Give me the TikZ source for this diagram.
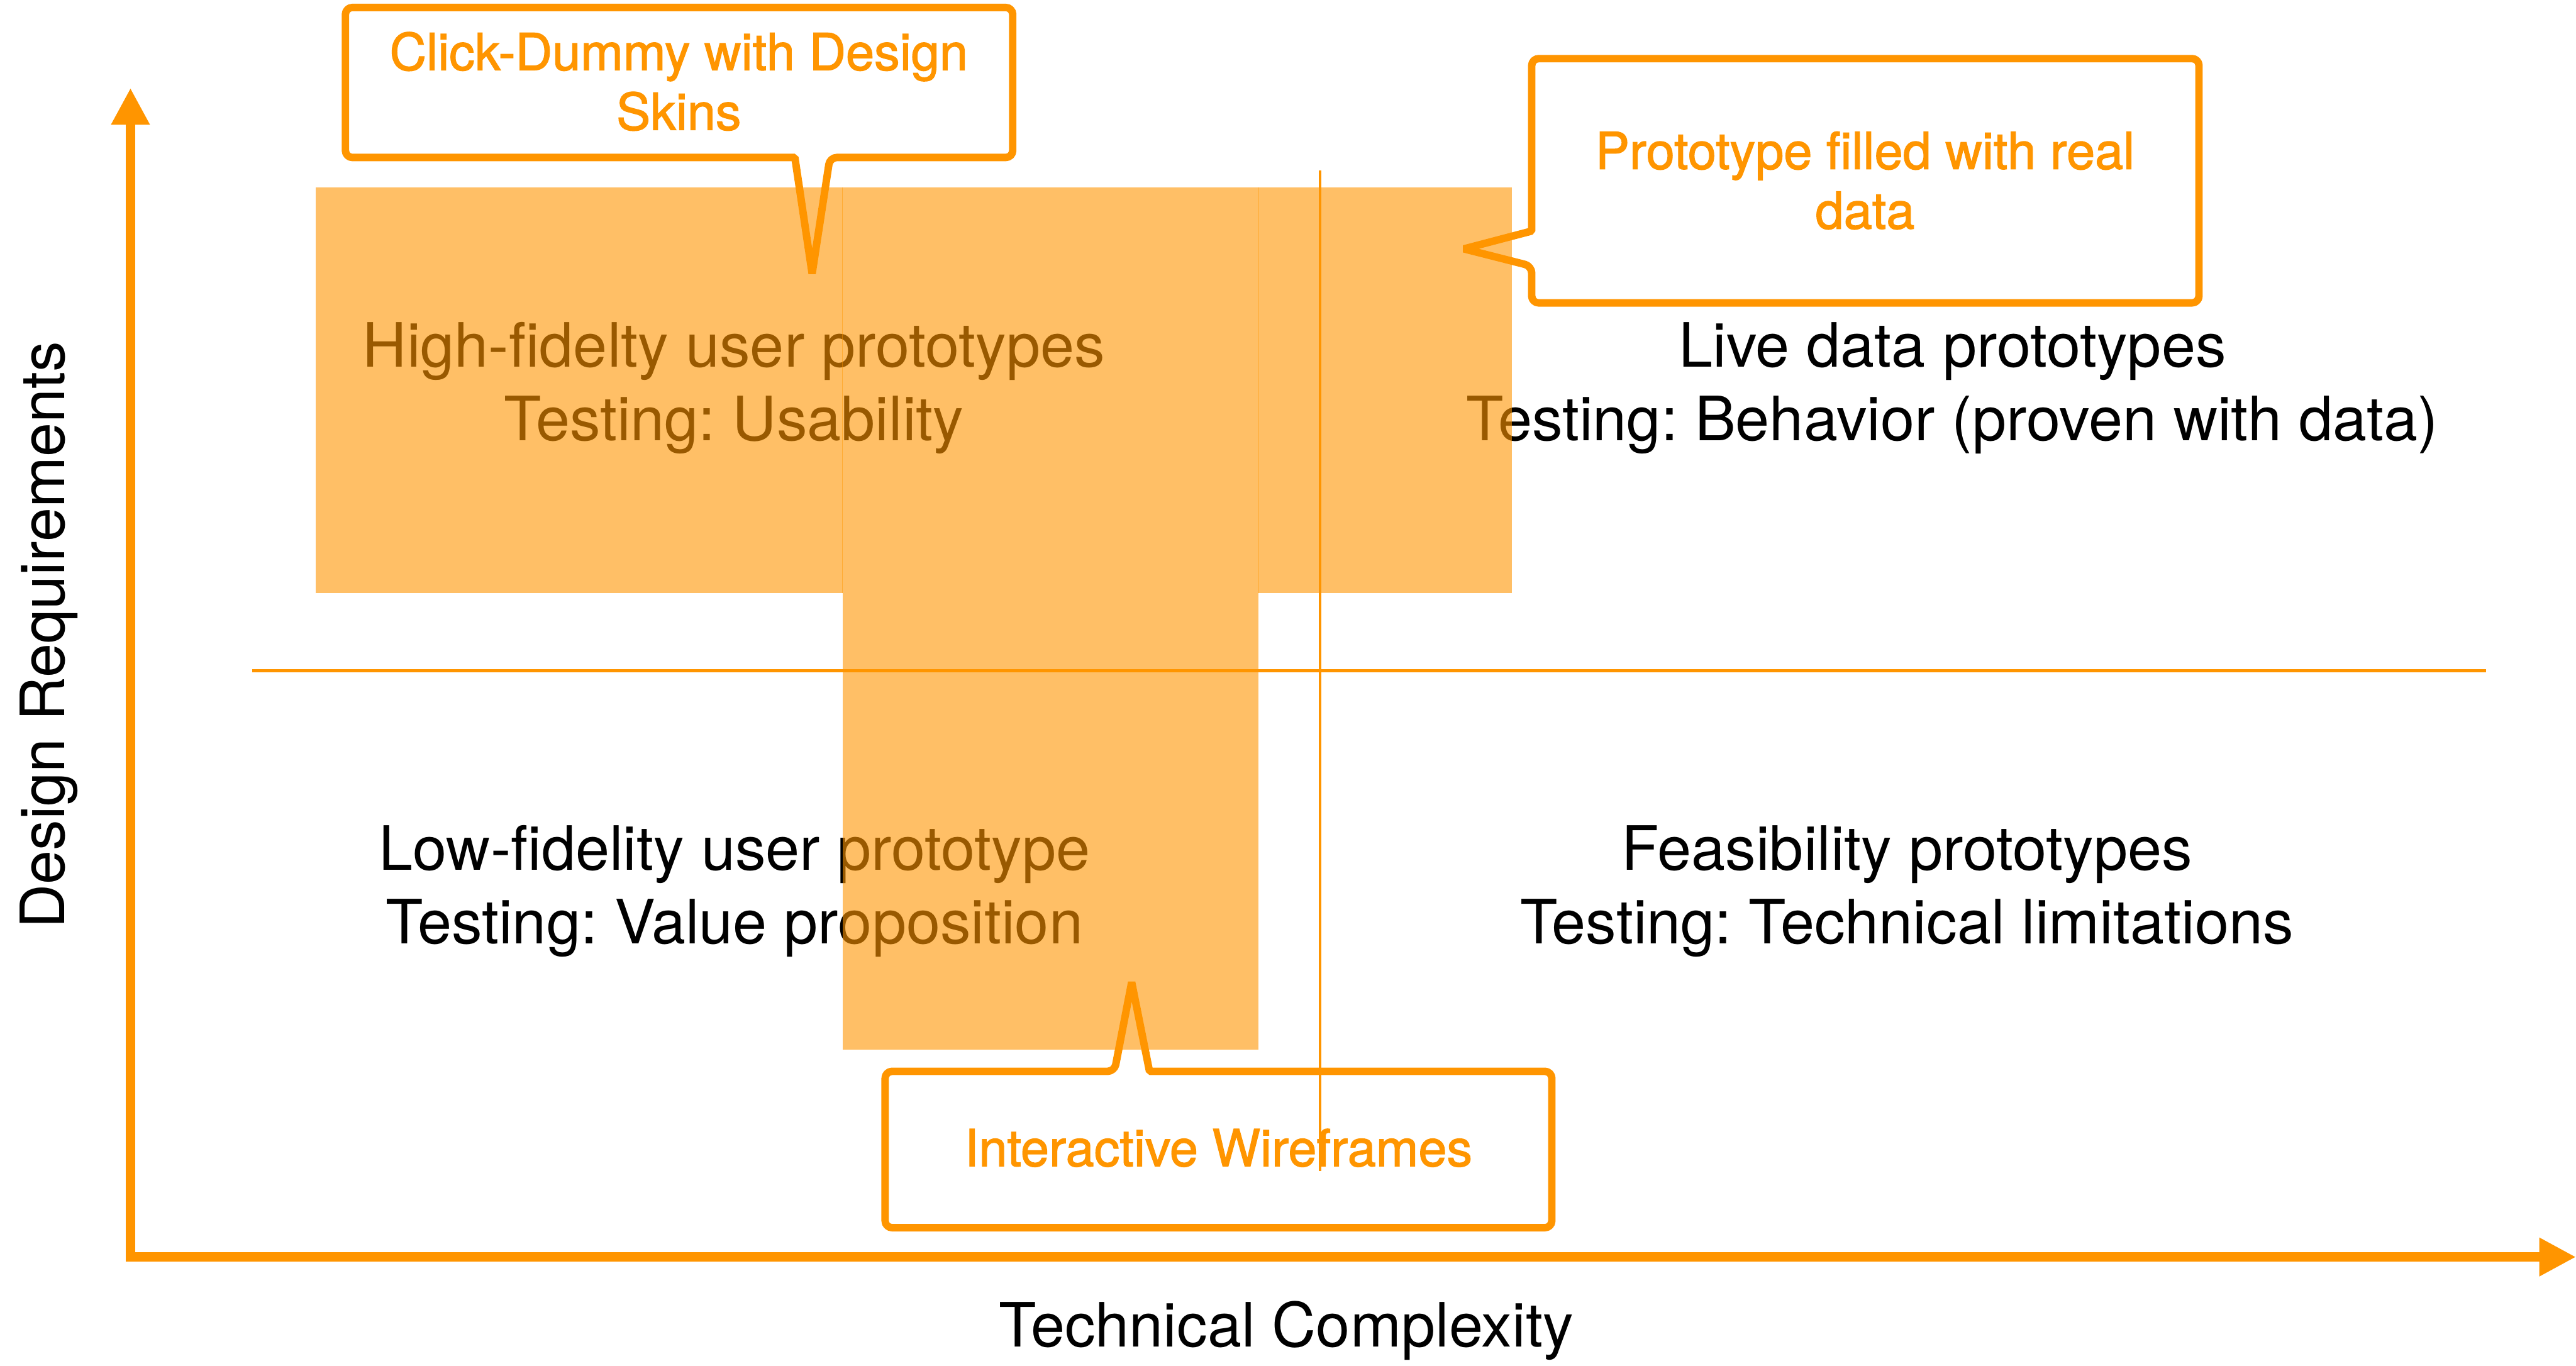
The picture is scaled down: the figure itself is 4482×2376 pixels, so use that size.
\documentclass[tikz,border=0pt]{standalone}
\usepackage{fontspec}
\setmainfont{TeX Gyre Heros}
\newfontface\calloutfont[FakeBold=1.6]{TeX Gyre Heros}
\usetikzlibrary{arrows.meta}
\definecolor{apporange}{HTML}{FF9500}
\frenchspacing
\tikzset{
  quadtext/.style={anchor=base, inner sep=0pt, text=black, font=\fontsize{26.6}{31.9}\selectfont},
  axistext/.style={anchor=base, inner sep=0pt, text=black, font=\fontsize{26.6}{31.9}\selectfont},
  calltext/.style={anchor=base, inner sep=0pt, text=apporange, font=\calloutfont\fontsize{22.2}{26.6}\selectfont},
  callout/.style={draw=apporange, line width=3.25pt, line join=bevel},
  block/.style={fill=apporange, fill opacity=0.6},
  seam/.style={draw=apporange, line width=0.3pt, draw opacity=0.5},
  divider/.style={draw=apporange, line width=1.25pt},
  axisline/.style={draw=apporange, line width=4pt, line join=miter,
    arrows={Triangle[length=16pt,width=15.75pt]-Triangle[length=16pt,width=15.75pt]}}
}
\begin{document}
\begin{tikzpicture}[x=0.25pt, y=-0.25pt]
\useasboundingbox (0,0) rectangle (4482,2376);

% quadrant labels (under the translucent blocks)
\node[quadtext] (tl1) at (1277,639) {High-fidelty user prototypes};
\node[quadtext] (tl2) at (1277,767) {Testing: Usability};
\node[quadtext] (tr1) at (3397,639) {Live data prototypes};
\node[quadtext] (tr2) at (3397,767) {Testing: Behavior (proven with data)};
\node[quadtext] (bl1) at (1278,1514) {Low-fidelity user prototype};
\node[quadtext] (bl2) at (1278,1642) {Testing: Value proposition};
\node[quadtext] (br1) at (3318,1514) {Feasibility prototypes};
\node[quadtext] (br2) at (3318,1642) {Testing: Technical limitations};

% axis titles
\node[axistext] (xlabel) at (2238,2343) {Technical Complexity};
\node[axistext, rotate=90] (ylabel) at (112,1105) {Design Requirements};

% callouts
\draw[callout, rounded corners=3pt] (1180,13) -- (1762,13) -- (1762,274) -- (1444,274)
  [sharp corners] -- (1413,476) -- (1383,274)
  [rounded corners=3pt] -- (601,274) -- (601,13) -- cycle;
\node[calltext] (c1a) at (1181,122) {Click-Dummy with Design};
\node[calltext] (c1b) at (1181,226) {Skins};

\draw[callout, rounded corners=3pt] (3245,102) -- (3826,102) -- (3826,527) -- (2665,527) -- (2665,463)
  [sharp corners] -- (2547,433) -- (2665,402)
  [rounded corners=3pt] -- (2665,102) -- cycle;
\node[calltext] (c2a) at (3245,294) {Prototype filled with real};
\node[calltext] (c2b) at (3245,398) {data};

\draw[callout, rounded corners=3pt] (2120,2136) -- (1540,2136) -- (1540,1864) -- (1939,1864)
  [sharp corners] -- (1969,1709) -- (2000,1864)
  [rounded corners=3pt] -- (2700,1864) -- (2700,2136) -- cycle;
\node[calltext] (c3) at (2120,2029) {Interactive Wireframes};

% translucent blocks
\fill[block] (549,326) rectangle (1466,1032);
\fill[block] (1466,326) rectangle (2190,1826);
\fill[block] (2190,326) rectangle (2631,1032);
\draw[seam] (1466,326) -- (1466,1032);
\draw[seam] (2190,326) -- (2190,1032);

% dividers
\coordinate (hl) at (439,1167);
\coordinate (hr) at (4325,1167);
\coordinate (vt) at (2297,297);
\coordinate (vb) at (2297,2037);
\draw[divider] (hl) -- (hr);
\draw[divider] (vt) -- (vb);

% axes
\coordinate (origin) at (227,2187);
\coordinate (ytip) at (227,153);
\coordinate (xtip) at (4482,2187);
\draw[axisline] (ytip) -- (origin) -- (xtip);
\end{tikzpicture}
\end{document}
